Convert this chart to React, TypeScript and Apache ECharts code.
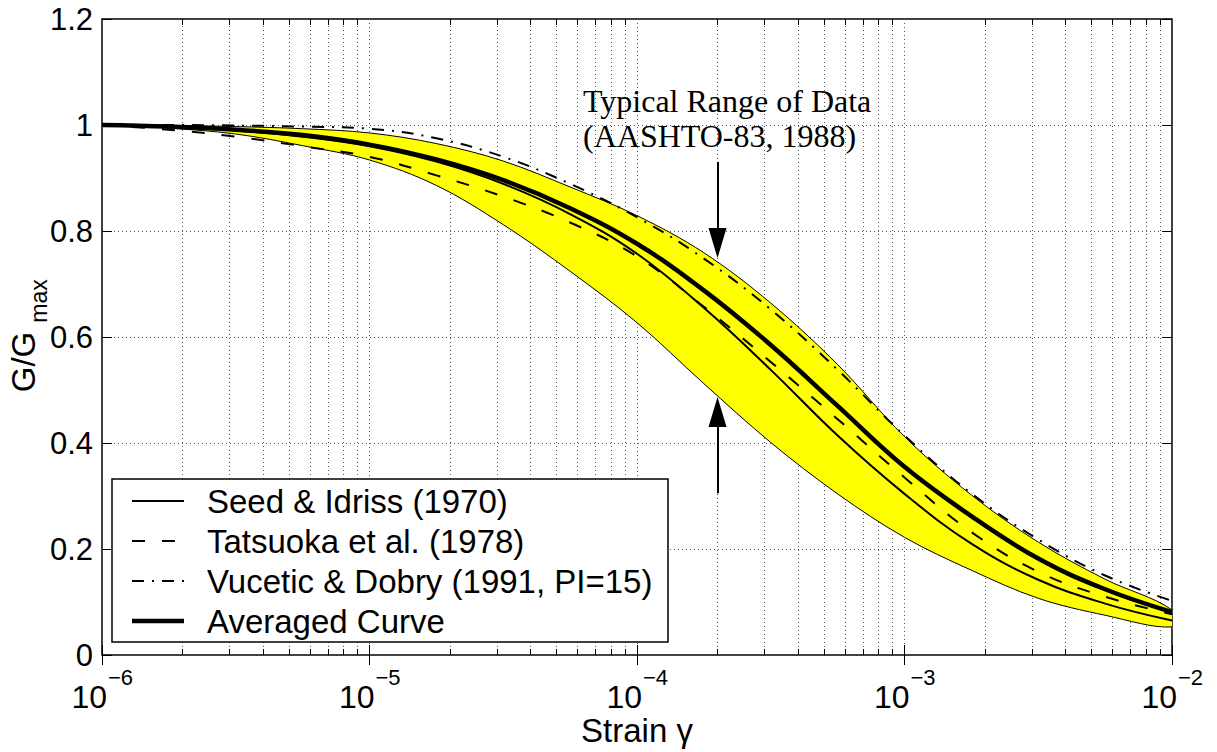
import React, { useEffect, useRef } from 'react';
import * as echarts from 'echarts';

// ---------- data ----------
const STRAIN = [
  1e-6, 1.778e-6, 3.162e-6, 5.623e-6,
  1e-5, 1.778e-5, 3.162e-5, 5.623e-5,
  1e-4, 1.778e-4, 3.162e-4, 5.623e-4,
  1e-3, 1.778e-3, 3.162e-3, 5.623e-3,
  1e-2,
];
const BAND_UPPER = [1.0, 0.999, 0.997, 0.993, 0.985, 0.965, 0.932, 0.883, 0.829, 0.759, 0.664, 0.548, 0.412, 0.302, 0.213, 0.143, 0.085];
const BAND_LOWER = [1.0, 0.994, 0.983, 0.961, 0.934, 0.886, 0.812, 0.724, 0.627, 0.512, 0.401, 0.304, 0.222, 0.16, 0.107, 0.075, 0.053];
const SEED_IDRISS = [1.0, 0.997, 0.99, 0.978, 0.96, 0.931, 0.889, 0.832, 0.757, 0.655, 0.538, 0.414, 0.304, 0.21, 0.142, 0.097, 0.065];
const TATSUOKA = [1.0, 0.991, 0.978, 0.96, 0.94, 0.905, 0.865, 0.816, 0.752, 0.657, 0.553, 0.445, 0.335, 0.232, 0.157, 0.11, 0.077];
const VUCETIC_DOBRY = [1.0, 1.0, 0.999, 0.997, 0.993, 0.975, 0.94, 0.889, 0.826, 0.748, 0.652, 0.538, 0.414, 0.305, 0.218, 0.15, 0.102];
const AVERAGED = [1.0, 0.997, 0.991, 0.981, 0.963, 0.935, 0.896, 0.843, 0.776, 0.688, 0.585, 0.47, 0.355, 0.262, 0.182, 0.124, 0.081];

const SERIES_NAMES = [
  'Seed & Idriss (1970)',
  'Tatsuoka et al. (1978)',
  'Vucetic & Dobry (1991, PI=15)',
  'Averaged Curve',
];
const X_DECADES = [1e-6, 1e-5, 1e-4, 1e-3, 1e-2];
const MINOR_MULTIPLIERS = [2, 3, 4, 5, 6, 7, 8, 9];
const Y_MIN = 0;
const Y_MAX = 1.2;
const Y_STEP = 0.2;
const X_TITLE = 'Strain γ';
const Y_TITLE = ['G/G', 'max'];
const ANNOTATION = ['Typical Range of Data', '(AASHTO-83, 1988)'];
const ARROW_STRAIN = 2e-4;
const ARROW_DOWN = [0.93, 0.749]; // [tail, tip]
const ARROW_UP = [0.305, 0.487]; // [tail, tip]

// ---------- styles / layout ----------
const GRID = { left: 102, top: 19, right: 45, bottom: 97 };
const PLOT_H = 752 - GRID.top - GRID.bottom;
const PX_PER_UNIT = PLOT_H / (Y_MAX - Y_MIN);
const ARROW_HEAD = [18, 30];
const MINOR_TICK_PX = 6;
const FONT = '"Liberation Sans", Arial, Helvetica, sans-serif';
const SERIF = '"Liberation Serif", "Times New Roman", serif';
const LINE_STYLES = [
  { width: 2, dash: null as number[] | null },
  { width: 2, dash: [13, 17] },
  { width: 2, dash: [12, 8, 2, 8] },
  { width: 4.5, dash: null as number[] | null },
];
const SERIES_DATA = [SEED_IDRISS, TATSUOKA, VUCETIC_DOBRY, AVERAGED];

const pairs = (ys: number[]) => STRAIN.map((x, i) => [x, ys[i]]);

function buildOption() {
  const minorXs: number[] = [];
  X_DECADES.slice(0, -1).forEach((d) => MINOR_MULTIPLIERS.forEach((m) => minorXs.push(m * d)));
  const minorLen = MINOR_TICK_PX / PX_PER_UNIT;
  const headOff = ARROW_HEAD[1] / 2 / PX_PER_UNIT;

  const minorGrid = minorXs.map((x) => [{ coord: [x, Y_MIN] }, { coord: [x, Y_MAX] }]);
  const minorTicks: any[] = [];
  minorXs.forEach((x) => {
    minorTicks.push([{ coord: [x, Y_MIN] }, { coord: [x, Y_MIN + minorLen] }]);
    minorTicks.push([{ coord: [x, Y_MAX] }, { coord: [x, Y_MAX - minorLen] }]);
  });

  const dotted = { type: [1, 3], color: '#555', width: 1 };
  const tick = { show: true, inside: true, length: 10, lineStyle: { color: '#000', width: 1 } };

  const lines = SERIES_NAMES.map((name, k) => {
    const s: any = {
      type: 'line',
      name,
      data: pairs(SERIES_DATA[k]),
      symbol: 'none',
      smooth: 0.4,
      silent: true,
      z: k === 3 ? 4 : 3,
      lineStyle: { color: '#000', width: LINE_STYLES[k].width, type: LINE_STYLES[k].dash || 'solid' },
      itemStyle: { color: '#000' },
    };
    return s;
  });
  lines[0].markLine = {
    silent: true, symbol: 'none', z: 1, label: { show: false }, lineStyle: dotted, data: minorGrid,
  };
  lines[1].markLine = {
    silent: true, symbol: 'none', z: 6, label: { show: false },
    lineStyle: { color: '#000', width: 1, type: 'solid' }, data: minorTicks,
  };
  lines[3].markLine = {
    silent: true, z: 7, symbol: ['none', 'triangle'], symbolSize: ARROW_HEAD, label: { show: false },
    lineStyle: { color: '#000', width: 2, type: 'solid' }, itemStyle: { color: '#000' },
    data: [
      [{ coord: [ARROW_STRAIN, ARROW_DOWN[0]] }, { coord: [ARROW_STRAIN, ARROW_DOWN[1] + headOff] }],
      [{ coord: [ARROW_STRAIN, ARROW_UP[0]] }, { coord: [ARROW_STRAIN, ARROW_UP[1] - headOff] }],
    ],
  };

  const band = {
    type: 'custom',
    name: 'band',
    silent: true,
    clip: true,
    z: 2,
    data: [0],
    renderItem: (_p: any, api: any) => {
      const up = STRAIN.map((x, i) => api.coord([x, BAND_UPPER[i]]));
      const lo = STRAIN.map((x, i) => api.coord([x, BAND_LOWER[i]])).slice(1).reverse();
      return {
        type: 'polygon',
        shape: { points: up.concat(lo), smooth: 0.35 },
        style: { fill: '#ffff00', stroke: '#000', lineWidth: 1 },
      };
    },
  };

  return {
    animation: false,
    color: ['#000'],
    textStyle: { fontFamily: FONT, color: '#000' },
    grid: {
      ...GRID,
      containLabel: false,
      outerBoundsMode: 'none',
      show: true,
      borderColor: '#000',
      borderWidth: 1.5,
      backgroundColor: 'transparent',
    },
    xAxis: [
      {
        type: 'log',
        logBase: 10,
        min: X_DECADES[0],
        max: X_DECADES[X_DECADES.length - 1],
        position: 'bottom',
        axisLine: { show: false },
        axisTick: tick,
        splitLine: { show: true, lineStyle: dotted },
        axisLabel: { show: false },
        name: X_TITLE,
        nameLocation: 'middle',
        nameGap: 59,
        nameTextStyle: { fontSize: 33, fontFamily: FONT, color: '#000' },
      },
      {
        type: 'log',
        logBase: 10,
        min: X_DECADES[0],
        max: X_DECADES[X_DECADES.length - 1],
        position: 'top',
        axisLine: { show: false },
        axisTick: tick,
        splitLine: { show: false },
        axisLabel: { show: false },
      },
    ],
    yAxis: [
      {
        type: 'value',
        min: Y_MIN,
        max: Y_MAX,
        interval: Y_STEP,
        position: 'left',
        axisLine: { show: false },
        axisTick: tick,
        splitLine: { show: true, lineStyle: dotted },
        axisLabel: { fontSize: 31, margin: 9, color: '#000', fontFamily: FONT },
      },
      {
        type: 'value',
        min: Y_MIN,
        max: Y_MAX,
        interval: Y_STEP,
        position: 'right',
        axisLine: { show: false },
        axisTick: tick,
        splitLine: { show: false },
        axisLabel: { show: false },
      },
    ],
    series: [band, ...lines],
  };
}

function buildGraphic(chart: echarts.ECharts) {
  const els: any[] = [];
  // x tick labels 10^n, placed through the axis scale
  X_DECADES.forEach((v) => {
    const px = chart.convertToPixel({ xAxisIndex: 0 }, v) as number;
    const e = Math.round(Math.log10(v));
    els.push({
      type: 'text', x: px + 5, y: 697, z: 50, silent: true,
      style: { text: '10', fontSize: 32, lineHeight: 32, fontFamily: FONT, fill: '#000', align: 'right', verticalAlign: 'middle' },
    });
    els.push({
      type: 'text', x: px + 6, y: 677, z: 50, silent: true,
      style: { text: `${e < 0 ? '\u2212' : ''}${Math.abs(e)}`, fontSize: 22, lineHeight: 22, fontFamily: FONT, fill: '#000', align: 'left', verticalAlign: 'middle' },
    });
  });
  // y axis title with subscript
  els.push({
    type: 'text', x: 23, y: 362, rotation: Math.PI / 2, z: 50, silent: true,
    style: { text: Y_TITLE[0], fontSize: 33, fontFamily: FONT, fill: '#000', align: 'center', verticalAlign: 'middle' },
  });
  els.push({
    type: 'text', x: 39, y: 301, rotation: Math.PI / 2, z: 50, silent: true,
    style: { text: Y_TITLE[1], fontSize: 23, fontFamily: FONT, fill: '#000', align: 'center', verticalAlign: 'middle' },
  });
  // annotation
  els.push({
    type: 'text', x: 583, y: 83, z: 50, silent: true,
    style: { text: ANNOTATION.join('\n'), fontSize: 32, fontFamily: SERIF, lineHeight: 35, fill: '#000', align: 'left', verticalAlign: 'top' },
  });
  // legend
  const box = { x: 112, y: 479, w: 556, h: 163 };
  els.push({
    type: 'rect', z: 60, silent: true,
    shape: { x: box.x, y: box.y, width: box.w, height: box.h },
    style: { fill: '#fff', stroke: '#000', lineWidth: 1.5 },
  });
  const rows = [501, 541, 581, 621];
  SERIES_NAMES.forEach((name, k) => {
    els.push({
      type: 'line', z: 61, silent: true,
      shape: { x1: 132, y1: rows[k], x2: 184, y2: rows[k] },
      style: { stroke: '#000', lineWidth: LINE_STYLES[k].width, lineDash: LINE_STYLES[k].dash || null },
    });
    els.push({
      type: 'text', x: 207, y: rows[k], z: 61, silent: true,
      style: { text: name, fontSize: 33, lineHeight: 35, fontFamily: FONT, fill: '#000', align: 'left', verticalAlign: 'middle' },
    });
  });
  return els;
}

export default function App() {
  const ref = useRef<HTMLDivElement>(null);
  useEffect(() => {
    if (!ref.current) return;
    const chart = echarts.init(ref.current, null, { renderer: 'svg' });
    chart.setOption(buildOption() as any);
    chart.setOption({ graphic: buildGraphic(chart) } as any);
    return () => chart.dispose();
  }, []);
  return (
    <div
      ref={ref}
      style={{ position: 'fixed', left: 0, top: 0, width: 1217, height: 752, background: '#fff' }}
    />
  );
}
